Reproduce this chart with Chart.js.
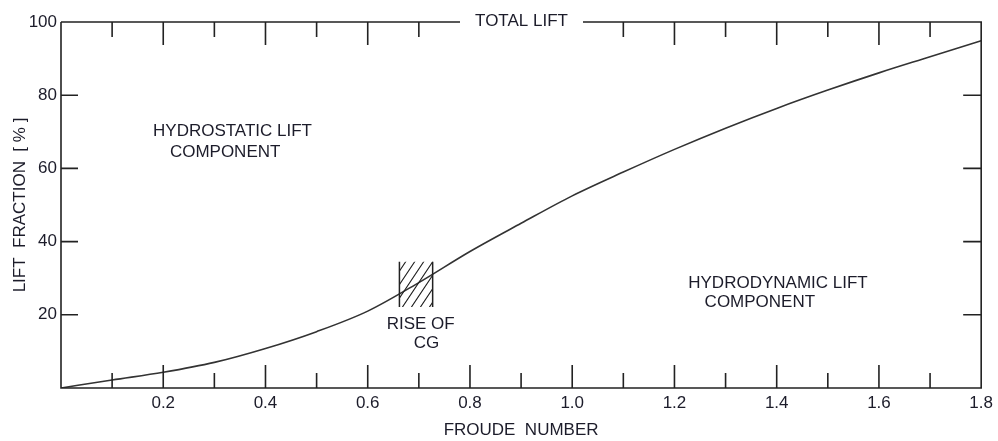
<!DOCTYPE html>
<html>
<head>
<meta charset="utf-8">
<script src="https://cdn.jsdelivr.net/npm/chart.js@4"></script>
<style>
  html, body { margin: 0; padding: 0; background: #fff; }
  #wrap { width: 998px; height: 441px; }
</style>
</head>
<body>
<div id="wrap"><canvas id="lift-chart" width="998" height="441"></canvas></div>
<script>
// froude number vs. share of total lift carried hydrodynamically
const froude = [0, 0.1, 0.2, 0.3, 0.4, 0.5, 0.6, 0.7, 0.8, 0.9, 1.0, 1.1, 1.2, 1.3, 1.4, 1.5, 1.6, 1.7, 1.8];
const liftFraction = [0, 2.2, 4.3, 7.0, 10.8, 15.4, 21.0, 28.8, 37.3, 45.0, 52.5, 59.0, 65.2, 71.0, 76.4, 81.4, 86.1, 90.5, 94.9];
const xTicks = [0.2, 0.4, 0.6, 0.8, 1.0, 1.2, 1.4, 1.6, 1.8];
const yTicks = [20, 40, 60, 80, 100];
// rise of CG band (froude range, lift range)
const riseFroude = [0.662, 0.727];
const riseLift = [22.1, 34.5];

const ink = '#222';
const textCol = '#1c1c2a';
const font = '17px "Liberation Sans", Arial, sans-serif';

const frame = {
    id: 'frame',
    afterDraw(chart) {
        const {ctx, chartArea: a, scales: {x, y}} = chart;
        ctx.save();
        ctx.strokeStyle = ink;
        ctx.lineWidth = 1.6;

        // top border broken by the TOTAL LIFT label
        const gapL = 460, gapR = 583;
        ctx.beginPath();
        ctx.moveTo(a.left, a.top); ctx.lineTo(gapL, a.top);
        ctx.moveTo(gapR, a.top); ctx.lineTo(a.right, a.top);
        ctx.lineTo(a.right, a.bottom); ctx.lineTo(a.left, a.bottom); ctx.lineTo(a.left, a.top);
        ctx.stroke();

        // inward ticks, x every 0.1 (longer on 0.2)
        ctx.beginPath();
        for (let i = 1; i < 18; i++) {
            const px = x.getPixelForValue(i / 10);
            const len = i % 2 === 0 ? 23 : 15;
            ctx.moveTo(px, a.bottom); ctx.lineTo(px, a.bottom - len);
            if (px < gapL - 2 || px > gapR + 2) {
                ctx.moveTo(px, a.top); ctx.lineTo(px, a.top + len);
            }
        }
        for (const v of yTicks) {
            if (v >= 100) continue;
            const py = y.getPixelForValue(v);
            ctx.moveTo(a.left, py); ctx.lineTo(a.left + 17, py);
            ctx.moveTo(a.right, py); ctx.lineTo(a.right - 18, py);
        }
        ctx.stroke();

        // hatched band
        const bx0 = x.getPixelForValue(riseFroude[0]), bx1 = x.getPixelForValue(riseFroude[1]);
        const by0 = y.getPixelForValue(riseLift[1]), by1 = y.getPixelForValue(riseLift[0]);
        ctx.lineWidth = 1.5;
        ctx.beginPath();
        ctx.moveTo(bx0, by0); ctx.lineTo(bx0, by1);
        ctx.moveTo(bx1, by0); ctx.lineTo(bx1, by1);
        ctx.stroke();
        ctx.save();
        ctx.beginPath();
        ctx.rect(bx0, by0, bx1 - bx0, by1 - by0);
        ctx.clip();
        ctx.lineWidth = 1.1;
        ctx.beginPath();
        for (let s = -60; s < 60; s += 9) {
            ctx.moveTo(bx0 + s, by1);
            ctx.lineTo(bx0 + s + 48, by1 - 72);
        }
        ctx.stroke();
        ctx.restore();

        // labels
        ctx.fillStyle = textCol;
        ctx.font = font;
        ctx.textBaseline = 'middle';
        ctx.textAlign = 'center';
        ctx.fillText('TOTAL LIFT', (gapL + gapR) / 2, a.top - 1);
        ctx.textAlign = 'left';
        const notes = [
            ['HYDROSTATIC LIFT', 0.18, 70.2],
            ['COMPONENT', 0.213, 64.5],
            ['HYDRODYNAMIC LIFT', 1.227, 28.7],
            ['COMPONENT', 1.259, 23.5],
            ['RISE OF', 0.637, 17.5],
            ['CG', 0.69, 12.3]
        ];
        notes.forEach(n => ctx.fillText(n[0], x.getPixelForValue(n[1]), y.getPixelForValue(n[2])));
        ctx.restore();
    }
};

let ctx = document.getElementById('lift-chart').getContext('2d');
let chart = new Chart(ctx, {
    type: 'scatter',
    data: {
        datasets: [{
            data: froude.map((f, i) => ({x: f, y: liftFraction[i]})),
            showLine: true,
            borderColor: '#333',
            borderWidth: 1.6,
            pointRadius: 0,
            cubicInterpolationMode: 'monotone'
        }]
    },
    options: {
        responsive: false,
        devicePixelRatio: 1,
        animation: false,
        layout: { padding: { top: 22, right: 16, left: 0, bottom: 0 } },
        plugins: { legend: { display: false }, tooltip: { enabled: false } },
        scales: {
            x: {
                type: 'linear',
                min: 0,
                max: 1.8,
                afterFit: s => { s.height = 53; },
                afterBuildTicks: s => { s.ticks = xTicks.map(v => ({value: v})); },
                grid: { display: false, drawTicks: false },
                border: { display: false },
                ticks: {
                    padding: 5,
                    color: textCol,
                    font: { family: '"Liberation Sans", Arial, sans-serif', size: 17 },
                    maxRotation: 0,
                    callback: v => v.toFixed(1)
                },
                title: {
                    display: true,
                    text: 'FROUDE  NUMBER',
                    color: textCol,
                    font: { family: '"Liberation Sans", Arial, sans-serif', size: 17, lineHeight: 1.2 },
                    padding: { top: 0, bottom: 0 }
                }
            },
            y: {
                min: 0,
                max: 100,
                afterFit: s => { s.width = 61; },
                afterBuildTicks: s => { s.ticks = yTicks.map(v => ({value: v})); },
                grid: { display: false, drawTicks: false },
                border: { display: false },
                ticks: {
                    padding: 4,
                    color: textCol,
                    font: { family: '"Liberation Sans", Arial, sans-serif', size: 17 }
                },
                title: {
                    display: true,
                    text: 'LIFT  FRACTION  [ % ]',
                    color: textCol,
                    font: { family: '"Liberation Sans", Arial, sans-serif', size: 17, lineHeight: 1.2 },
                    padding: { top: 10, bottom: 0 }
                }
            }
        }
    },
    plugins: [frame]
});
</script>
</body>
</html>
